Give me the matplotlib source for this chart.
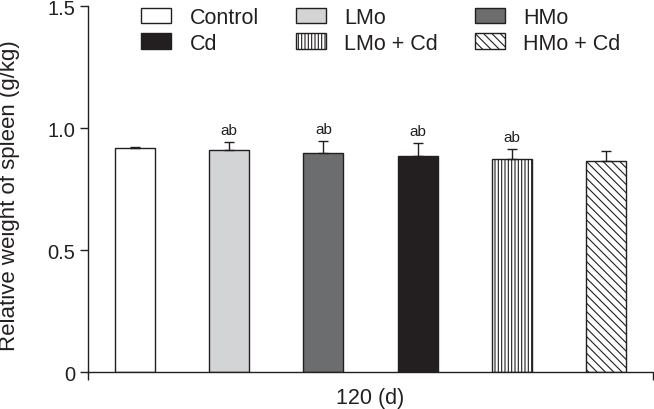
import matplotlib
matplotlib.use("Agg")
import matplotlib.pyplot as plt
from matplotlib.patches import Patch

plt.rcParams['font.family'] = ['Liberation Sans', 'DejaVu Sans']
plt.rcParams['hatch.linewidth'] = 0.8

groups = ["Control", "LMo", "HMo", "Cd", "LMo + Cd", "HMo + Cd"]
values = [0.918, 0.911, 0.897, 0.888, 0.876, 0.865]
errors = [0.006, 0.032, 0.052, 0.052, 0.039, 0.041]
sig = ["", "ab", "ab", "ab", "ab", ""]
facecolors = ["white", "#d3d4d6", "#6c6d6f", "#231f20", "white", "white"]
hatches = [None, None, None, None, "|||||", "\\\\\\\\"]
legend_order = ["Control", "Cd", "LMo", "LMo + Cd", "HMo", "HMo + Cd"]
xlabel = "120 (d)"
ylabel = "Relative weight of spleen (g/kg)"
yticks = [0, 0.5, 1.0, 1.5]
yticklabels = ["0", "0.5", "1.0", "1.5"]

edge = "#231f20"
fig = plt.figure(figsize=(6.54, 4.10), dpi=100)
ax = fig.add_axes([88/654, 36.7/410, 565/654, 366/410])

x = list(range(len(groups)))
bars = ax.bar(x, values, width=0.425, color=facecolors, edgecolor=edge,
              linewidth=1.0, zorder=2)
for b, h in zip(bars, hatches):
    if h:
        b.set_hatch(h)
ax.errorbar(x, values, yerr=[[0]*len(errors), errors], fmt="none",
            ecolor=edge, elinewidth=1.0, capsize=3.8, capthick=1.0, zorder=3)
for xi, v, e, s in zip(x, values, errors, sig):
    if s:
        ax.annotate(s, (xi, v + e), xytext=(0, 3.5), textcoords="offset points",
                    ha="center", va="bottom", fontsize=11, color=edge)

ax.set_xlim(-0.5, 5.5)
ax.set_ylim(0, 1.5)
ax.set_yticks(yticks)
ax.set_yticklabels(yticklabels, fontsize=14.5, color=edge)
ax.set_xticks([-0.5, 5.5])
ax.set_xticklabels(["", ""])
ax.tick_params(axis="both", direction="out", length=6, width=1.0, color=edge)
ax.tick_params(axis="y", pad=3)
for sp in ["top", "right"]:
    ax.spines[sp].set_visible(False)
for sp in ["left", "bottom"]:
    ax.spines[sp].set_linewidth(1.0)
    ax.spines[sp].set_color(edge)
ax.set_xlabel(xlabel, fontsize=15.5, color=edge, labelpad=1)
ax.set_ylabel(ylabel, fontsize=16, color=edge)
ax.yaxis.set_label_coords(-0.121, 0.486)

idx = {g: i for i, g in enumerate(groups)}
handles = []
for g in legend_order:
    i = idx[g]
    handles.append(Patch(facecolor=facecolors[i], edgecolor=edge,
                         hatch=hatches[i], linewidth=1.0, label=g))
leg = ax.legend(handles=handles, ncol=3, loc="upper left",
                bbox_to_anchor=(141/654, 402/410), bbox_transform=fig.transFigure,
                frameon=False, fontsize=15.5, handlelength=1.4, handleheight=0.75,
                handletextpad=0.85, columnspacing=1.72, labelspacing=0.22,
                borderaxespad=0, borderpad=0)
for t in leg.get_texts():
    t.set_color(edge)

fig.savefig("out.png", dpi=100)
